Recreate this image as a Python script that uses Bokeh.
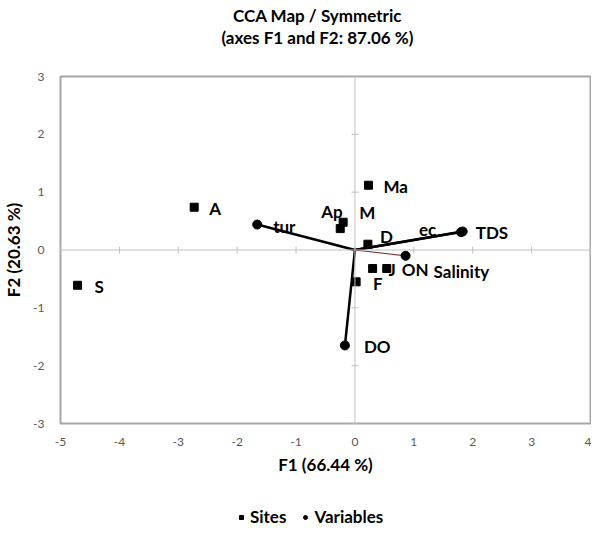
import math
from bokeh.plotting import figure
from bokeh.layouts import column
from bokeh.models import (Range1d, FixedTicker, Span, Label, Legend, LegendItem,
                          ColumnDataSource, PrintfTickFormatter)
from bokeh.core.properties import value
from bokeh.embed import file_html
from bokeh.resources import INLINE

# ---- data ----
title_lines = ["CCA Map / Symmetric", "(axes F1 and F2: 87.06 %)"]
x_title = "F1 (66.44 %)"
y_title = "F2 (20.63 %)"
x_ticks = [-5, -4, -3, -2, -1, 0, 1, 2, 3, 4]
y_ticks = [-3, -2, -1, 0, 1, 2, 3]
legend_labels = ["Sites", "Variables"]

sites = ["S", "A", "Ma", "M", "Ap", "D", "F", "J", "ON"]
site_f1 = [-4.71, -2.73, 0.23, -0.20, -0.25, 0.22, 0.02, 0.30, 0.54]
site_f2 = [-0.61, 0.74, 1.12, 0.48, 0.37, 0.10, -0.55, -0.32, -0.32]

variables = ["tur", "ec", "TDS", "Salinity", "DO"]
var_f1 = [-1.66, 1.80, 1.83, 0.86, -0.17]
var_f2 = [0.44, 0.31, 0.32, -0.10, -1.65]

# ---- label placement (pixels) ----
site_dx = [17, 15, 15, 16, -19, 12, 17, 16, 15]
site_dy = [1, 1, 1, -10, -17, -8, 2, 1, 1]
var_dx = [16, -42, 13, 28, 19]
var_dy = [2, -3, 1, 16, 1]
var_line_color = ["black", "black", "black", "#7b3535", "black"]
var_line_width = [2.5, 2.5, 2.5, 1.2, 2.5]

FONT = "Lato"
GRAY = "#a6a6a6"
W = 583

# ---- title strip ----
tt = figure(width=W, height=50, output_backend="svg", toolbar_location=None,
            x_range=Range1d(0, W), y_range=Range1d(50, 0), min_border=0)
tt.axis.visible = False
tt.grid.visible = False
tt.outline_line_color = None
for txt, ty in zip(title_lines, [15, 37]):
    tt.add_layout(Label(x=287, y=ty, text=txt, text_font=FONT, text_font_style="bold",
                        text_font_size="17px", text_align="center",
                        text_baseline="middle", text_color="black"))

# ---- main chart ----
p = figure(frame_width=530, frame_height=347, output_backend="svg", toolbar_location=None,
           x_range=Range1d(-5, 4), y_range=Range1d(-3, 3),
           min_border_left=52, min_border_right=1, min_border_top=26,
           min_border_bottom=70)
p.background_fill_color = "white"
p.border_fill_color = "white"
p.outline_line_color = GRAY
p.outline_line_width = 2
p.xgrid.visible = False
p.ygrid.visible = False

for ax, ticks, title in ((p.xaxis, x_ticks, x_title), (p.yaxis, y_ticks, y_title)):
    ax.ticker = FixedTicker(ticks=ticks)
    ax.formatter = PrintfTickFormatter(format="%d")
    ax.axis_line_color = None
    ax.major_tick_line_color = None
    ax.minor_tick_line_color = None
    ax.major_label_text_font = FONT
    ax.major_label_text_font_size = "12px"
    ax.major_label_text_color = "#595959"
    ax.axis_label = title
    ax.axis_label_text_font = FONT
    ax.axis_label_text_font_size = "17px"
    ax.axis_label_text_font_style = "bold"
    ax.axis_label_text_color = "black"
p.xaxis.major_label_standoff = 8
p.xaxis.axis_label_standoff = 5
p.yaxis.major_label_standoff = 10
p.yaxis.axis_label_standoff = 6

# zero lines
p.add_layout(Span(location=0, dimension="height", line_color="#bfbfbf", line_width=1))
p.add_layout(Span(location=0, dimension="width", line_color="#bfbfbf", line_width=1))
# tick marks on the zero lines
p.scatter(x=x_ticks, y=[0] * len(x_ticks), marker="dash", size=7, angle=math.pi / 2,
          line_color="#bfbfbf", line_width=1)
p.scatter(x=[0] * len(y_ticks), y=y_ticks, marker="dash", size=7,
          line_color="#bfbfbf", line_width=1)

# variable vectors
vsrc = ColumnDataSource(dict(x=var_f1, y=var_f2, name=variables, dx=var_dx, dy=var_dy,
                             lc=var_line_color, lw=var_line_width,
                             x0=[0] * len(var_f1), y0=[0] * len(var_f1)))
p.segment(x0="x0", y0="y0", x1="x", y1="y", line_color="lc", line_width="lw", source=vsrc)
p.scatter(x="x", y="y", marker="circle", size=9, fill_color="black",
          line_color="black", source=vsrc)
p.text(x="x", y="y", text="name", x_offset="dx", y_offset="dy", source=vsrc,
       text_font=value(FONT), text_font_style="bold", text_font_size="17px",
       text_baseline="middle", text_align="left", text_color="black")

# sites
ssrc = ColumnDataSource(dict(x=site_f1, y=site_f2, name=sites, dx=site_dx, dy=site_dy))
p.scatter(x="x", y="y", marker="square", size=8, fill_color="black",
          line_color="black", source=ssrc)
p.text(x="x", y="y", text="name", x_offset="dx", y_offset="dy", source=ssrc,
       text_font=value(FONT), text_font_style="bold", text_font_size="17px",
       text_baseline="middle", text_align="left", text_color="black")

# ---- legend strip (same data sources, viewed out of range so only the legend shows) ----
lg = figure(width=W, height=35, output_backend="svg", toolbar_location=None,
            x_range=Range1d(100, 101), y_range=Range1d(100, 101), min_border=0)
lg.axis.visible = False
lg.grid.visible = False
lg.outline_line_color = None
sq_r = lg.scatter(x="x", y="y", marker="square", size=7, fill_color="black",
                  line_color="black", source=ssrc)
ci_r = lg.scatter(x="x", y="y", marker="circle", size=7, fill_color="black",
                  line_color="black", source=vsrc)
legend = Legend(items=[LegendItem(label=legend_labels[0], renderers=[sq_r], index=0),
                       LegendItem(label=legend_labels[1], renderers=[ci_r], index=0)],
                orientation="horizontal", location=(176, 1),
                label_text_font=FONT, label_text_font_style="bold",
                label_text_font_size="17px", label_text_color="black",
                glyph_width=10, glyph_height=14,
                label_standoff=4, spacing=14, padding=0, margin=0,
                border_line_color=None, background_fill_alpha=0)
lg.add_layout(legend, "center")

open("out.html", "w").write(file_html(column(tt, p, lg), INLINE))
